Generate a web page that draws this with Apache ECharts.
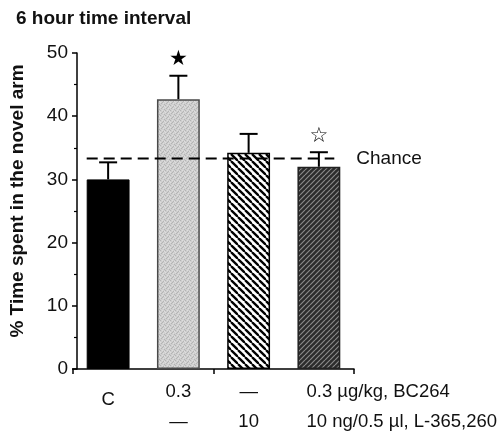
<!DOCTYPE html>
<html>
<head>
<meta charset="utf-8">
<script src="https://cdn.jsdelivr.net/npm/echarts@6/dist/echarts.min.js"></script>
<style>
html,body{margin:0;padding:0;background:#fff;}
#chart{width:503px;height:433px;}
</style>
</head>
<body>
<div id="chart"></div>
<script>
// ---- data ----
const categories = ['C', 'BC264', 'L-365,260', 'BC264 + L-365,260'];
const means = [30.0, 42.7, 34.2, 32.0];
const sems = [2.7, 3.7, 3.0, 2.3];
const chance = 33.3;
const chanceLabel = 'Chance';
const stars = ['', '★', '', '☆'];
const groupLabel = ['C', '', '', ''];
const doseBC = ['', '0.3', '—', '0.3 µg/kg, BC264'];
const doseL = ['', '—', '10', '10 ng/0.5 µl, L-365,260'];
const titleText = '6 hour time interval';
const yName = '% Time spent in the novel arm';
const yMin = 0, yMax = 50, yInterval = 10;

// ---- patterns ----
function stripes(size, bg, fg, lw, dir) {
  const c = document.createElement('canvas');
  c.width = size; c.height = size;
  const g = c.getContext('2d');
  g.fillStyle = bg; g.fillRect(0, 0, size, size);
  g.strokeStyle = fg; g.lineWidth = lw;
  for (let k = -1; k <= 1; k++) {
    g.beginPath();
    if (dir > 0) { g.moveTo(k * size, 0); g.lineTo(k * size + size, size); }
    else { g.moveTo(k * size, size); g.lineTo(k * size + size, 0); }
    g.stroke();
  }
  return c;
}
function stipple() {
  const c = document.createElement('canvas');
  c.width = 5; c.height = 5;
  const g = c.getContext('2d');
  g.fillStyle = '#cfcfcf'; g.fillRect(0, 0, 5, 5);
  g.fillStyle = '#b4b4b4';
  [[0,0],[3,1],[1,3],[4,4],[2,2]].forEach(p => g.fillRect(p[0], p[1], 1, 1));
  g.fillStyle = '#dedede';
  [[2,0],[0,2],[4,1],[3,3]].forEach(p => g.fillRect(p[0], p[1], 1, 1));
  return c;
}
const barStyles = [
  { color: '#000', borderColor: '#000', borderWidth: 1 },
  { color: { image: stipple(), repeat: 'repeat' }, borderColor: '#4a4a4a', borderWidth: 1.5 },
  { color: { image: stripes(7, '#fff', '#000', 2.3, 1), repeat: 'repeat' }, borderColor: '#000', borderWidth: 1.5 },
  { color: { image: stripes(5, '#2c2c2c', '#8a8a8a', 1.2, -1), repeat: 'repeat' }, borderColor: '#222', borderWidth: 1.5 }
];

const FONT = 'Liberation Sans, Arial, Helvetica, sans-serif';
const BAR_FRAC = 0.61;

const chart = echarts.init(document.getElementById('chart'), null, { renderer: 'canvas' });
const option = {
  animation: false,
  backgroundColor: '#fff',
  title: {
    text: titleText, left: 11, top: 4,
    textStyle: { fontFamily: FONT, fontSize: 19, fontWeight: 'bold', color: '#111' }
  },
  grid: { left: 73, right: 149, top: 53, bottom: 64, containLabel: false },
  xAxis: {
    type: 'category', data: categories,
    axisLine: { lineStyle: { color: '#000', width: 1.5 } },
    axisTick: { show: true, length: 5, lineStyle: { color: '#000', width: 1.5 } },
    axisLabel: { show: false }
  },
  yAxis: {
    type: 'value', min: yMin, max: yMax, interval: yInterval, offset: -4,
    name: yName, nameLocation: 'middle', nameGap: 50,
    nameTextStyle: { fontFamily: FONT, fontSize: 19, fontWeight: 'bold', color: '#111', padding: [0, 0, 0, 20] },
    axisLine: { show: true, lineStyle: { color: '#000', width: 1.5 } },
    axisTick: { show: true, length: 5, lineStyle: { color: '#000', width: 1.5 } },
    minorTick: { show: true, splitNumber: 2, length: 3, lineStyle: { color: '#000', width: 1.2 } },
    splitLine: { show: false },
    axisLabel: { fontFamily: FONT, fontSize: 19, color: '#111', margin: 9 }
  },
  series: [
    {
      type: 'bar', barWidth: (BAR_FRAC * 100) + '%',
      data: means.map((v, i) => ({ value: v, itemStyle: barStyles[i] })),
      z: 2
    },
    {
      type: 'custom', z: 3,
      data: means.map((m, i) => [i, m, m + sems[i]]),
      encode: { x: 0, y: [1, 2] },
      renderItem: function (params, api) {
        const i = api.value(0);
        const p0 = api.coord([i, api.value(1)]);
        const p1 = api.coord([i, api.value(2)]);
        const half = 9;
        return {
          type: 'group', children: [
            { type: 'line', shape: { x1: p0[0], y1: p0[1], x2: p1[0], y2: p1[1] }, style: { stroke: '#000', lineWidth: 2 } },
            { type: 'line', shape: { x1: p1[0] - half, y1: p1[1], x2: p1[0] + half, y2: p1[1] }, style: { stroke: '#000', lineWidth: 2 } },
            { type: 'text', style: { text: stars[i], x: p1[0], y: p1[1] - 16, align: 'center', verticalAlign: 'middle', font: '21px DejaVu Sans', fill: '#000' } }
          ]
        };
      }
    },
    {
      type: 'custom', z: 4, clip: false, silent: true,
      data: [[0, chance]],
      encode: { x: 0, y: 1 },
      renderItem: function (params, api) {
        const bw = api.size([1, 0])[0] * BAR_FRAC;
        const a = api.coord([0, api.value(1)]);
        const b = api.coord([categories.length - 1, api.value(1)]);
        const x1 = a[0] - bw / 2, x2 = b[0] + bw / 2 - 6;
        return {
          type: 'group', children: [
            { type: 'line', shape: { x1: x1, y1: a[1], x2: x2, y2: a[1] }, style: { stroke: '#000', lineWidth: 2, lineDash: [11, 6] } },
            { type: 'text', style: { text: chanceLabel, x: b[0] + bw / 2 + 16, y: a[1], align: 'left', verticalAlign: 'middle', font: '19px ' + FONT, fill: '#111' } }
          ]
        };
      }
    },
    {
      type: 'custom', z: 4, clip: false, silent: true,
      data: categories.map((c, i) => [i, yMin]),
      encode: { x: 0, y: 1 },
      renderItem: function (params, api) {
        const i = api.value(0);
        const p = api.coord([i, api.value(1)]);
        const last = i === categories.length - 1;
        const bw = api.size([1, 0])[0] * BAR_FRAC;
        const x = last ? p[0] - bw / 2 + 9 : p[0];
        const align = last ? 'left' : 'center';
        const f = '18.5px ' + FONT;
        const kids = [];
        if (groupLabel[i]) kids.push({ type: 'text', style: { text: groupLabel[i], x: x, y: p[1] + 31, align: align, verticalAlign: 'middle', font: f, fill: '#111' } });
        if (doseBC[i]) kids.push({ type: 'text', style: { text: doseBC[i], x: x, y: p[1] + 23, align: align, verticalAlign: 'middle', font: f, fill: '#111' } });
        if (doseL[i]) kids.push({ type: 'text', style: { text: doseL[i], x: x, y: p[1] + 53, align: align, verticalAlign: 'middle', font: f, fill: '#111' } });
        return { type: 'group', children: kids };
      }
    }
  ]
};
chart.setOption(option);
</script>
</body>
</html>
